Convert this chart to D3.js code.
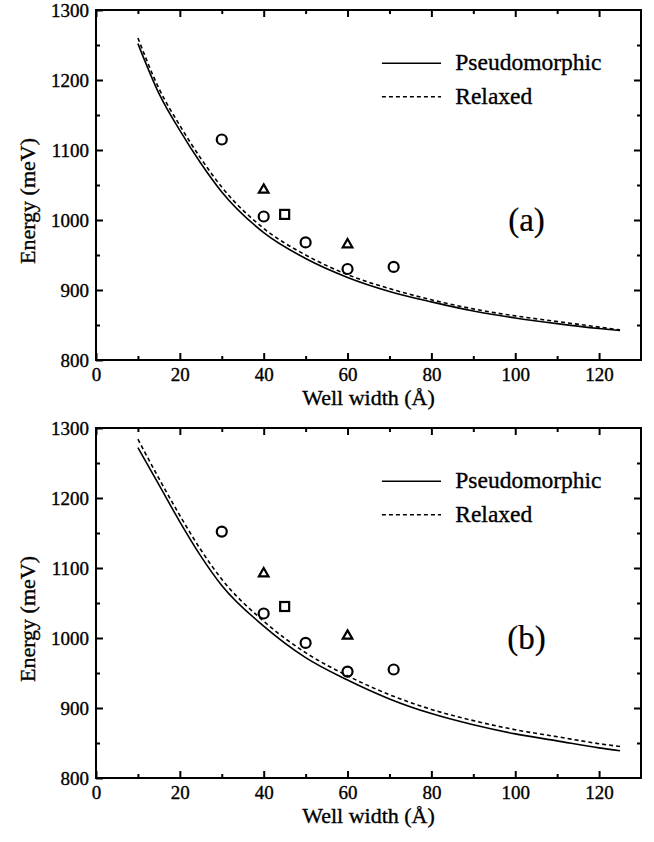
<!DOCTYPE html>
<html>
<head>
<meta charset="utf-8">
<script src="https://cdn.jsdelivr.net/npm/d3@7"></script>
<style>
  body { margin: 0; background: #fff; }
  svg text { font-family: "Liberation Serif", "Times New Roman", serif; fill: #000; stroke: #000; stroke-width: 0.35px; }
  svg .tick-label { font-size: 19px; }
  svg .axis-label { font-size: 22px; }
  svg .legend-text { font-size: 23.5px; }
  svg .panel-tag { font-size: 33px; stroke-width: 0.2px; }
</style>
</head>
<body>
<svg width="654" height="842"></svg>
<script>
const svg = d3.select("svg");

// well width (Å) where the calculated curves are sampled
const wellWidth = [10, 15, 20, 25, 30, 40, 50, 60, 70, 80, 90, 100, 110, 120, 125];

// panel (a)
const pseudoA   = [1252, 1181, 1128, 1081, 1040, 982, 945, 918, 898, 883, 870, 860, 852, 845, 842];
const relaxedA  = [1260, 1188, 1135, 1088, 1047, 988, 950, 922, 902, 886, 873, 863, 855, 847, 843];
// panel (b)
const pseudoB   = [1272, 1219, 1166, 1117, 1075, 1017, 972, 940, 913, 892, 876, 863, 853, 843, 839];
const relaxedB  = [1284, 1228, 1175, 1126, 1084, 1024, 979, 946, 919, 898, 882, 869, 859, 849, 845];

// experimental points
const circleX   = [30, 40, 50, 60, 71];
const circleA   = [1115, 1005, 968, 930, 933];
const circleB   = [1152, 1035, 993, 952, 955];
const triangleX = [40, 60];
const triangleA = [1043, 965];
const triangleB = [1092, 1003];
const squareX   = [45];
const squareA   = [1008];
const squareB   = [1045];

const xTicks = [0, 20, 40, 60, 80, 100, 120];
const yTicks = [800, 900, 1000, 1100, 1200, 1300];
const legendNames = ["Pseudomorphic", "Relaxed"];

const plotLeft = 96, plotRight = 641, plotHeight = 350;

const xScale = d3.scaleLinear().domain([0, 130]).range([plotLeft, plotRight]);

function drawPanel(top, pseudo, relaxed, circ, tri, sq, tag) {
    const g = svg.append("g");
    const yScale = d3.scaleLinear().domain([800, 1300]).range([top + plotHeight, top]);
    const bottom = top + plotHeight;

    // minor ticks, inward on all four sides
    const minorX = d3.range(10, 130, 20);
    const minorY = d3.range(850, 1300, 100);
    g.append("g").attr("transform", `translate(0,${bottom})`)
        .call(d3.axisBottom(xScale).tickValues(minorX).tickSize(-4).tickFormat(""));
    g.append("g").attr("transform", `translate(0,${top})`)
        .call(d3.axisTop(xScale).tickValues(minorX).tickSize(-4).tickFormat(""));
    g.append("g").attr("transform", `translate(${plotLeft},0)`)
        .call(d3.axisLeft(yScale).tickValues(minorY).tickSize(-4).tickFormat(""));
    g.append("g").attr("transform", `translate(${plotRight},0)`)
        .call(d3.axisRight(yScale).tickValues(minorY).tickSize(-4).tickFormat(""));

    // major ticks
    g.append("g").attr("transform", `translate(0,${bottom})`)
        .call(d3.axisBottom(xScale).tickValues(xTicks).tickSize(-7).tickPadding(8).tickFormat(d3.format("d")));
    g.append("g").attr("transform", `translate(0,${top})`)
        .call(d3.axisTop(xScale).tickValues(xTicks).tickSize(-7).tickFormat(""));
    g.append("g").attr("transform", `translate(${plotLeft},0)`)
        .call(d3.axisLeft(yScale).tickValues(yTicks).tickSize(-7).tickPadding(7).tickFormat(d3.format("d")));
    g.append("g").attr("transform", `translate(${plotRight},0)`)
        .call(d3.axisRight(yScale).tickValues(yTicks.slice(1, -1)).tickSize(-7).tickFormat(""));

    g.selectAll(".domain").remove();
    g.selectAll("g").attr("font-size", null).attr("font-family", null);
    g.selectAll(".tick line").attr("stroke", "#000").attr("stroke-width", 2);
    g.selectAll(".tick text").attr("class", "tick-label").attr("fill", "#000");

    // frame
    g.append("rect")
        .attr("x", plotLeft).attr("y", top)
        .attr("width", plotRight - plotLeft).attr("height", plotHeight)
        .attr("fill", "none").attr("stroke", "#000").attr("stroke-width", 2);

    const line = d3.line()
        .x((d, i) => xScale(wellWidth[i]))
        .y(d => yScale(d))
        .curve(d3.curveMonotoneX);

    g.append("path").datum(pseudo)
        .attr("d", line).attr("fill", "none")
        .attr("stroke", "#000").attr("stroke-width", 1.6);
    g.append("path").datum(relaxed)
        .attr("d", line).attr("fill", "none")
        .attr("stroke", "#000").attr("stroke-width", 1.6)
        .attr("stroke-dasharray", "4,3");

    // markers
    g.selectAll(".circ").data(circ).enter().append("circle")
        .attr("cx", (d, i) => xScale(circleX[i]))
        .attr("cy", d => yScale(d))
        .attr("r", 5)
        .attr("fill", "none").attr("stroke", "#000").attr("stroke-width", 2.2);

    const triShape = d3.symbol().type(d3.symbolTriangle).size(40);
    g.selectAll(".tri").data(tri).enter().append("path")
        .attr("d", triShape)
        .attr("transform", (d, i) => `translate(${xScale(triangleX[i])},${yScale(d)})`)
        .attr("fill", "none").attr("stroke", "#000").attr("stroke-width", 2.2);

    g.selectAll(".sq").data(sq).enter().append("rect")
        .attr("x", (d, i) => xScale(squareX[i]) - 4.5)
        .attr("y", d => yScale(d) - 4.5)
        .attr("width", 9).attr("height", 9)
        .attr("fill", "none").attr("stroke", "#000").attr("stroke-width", 2.2);

    // legend
    const legY = [yScale(1224), yScale(1176)];
    legendNames.forEach(function(name, i) {
        g.append("line")
            .attr("x1", xScale(68.2)).attr("x2", xScale(82.3))
            .attr("y1", legY[i]).attr("y2", legY[i])
            .attr("stroke", "#000").attr("stroke-width", 1.5)
            .attr("stroke-dasharray", i === 1 ? "4,3" : null);
        g.append("text")
            .attr("x", xScale(85.7)).attr("y", legY[i] + 7)
            .attr("class", "legend-text")
            .text(name);
    });

    g.append("text")
        .attr("x", xScale(102.7)).attr("y", yScale(985))
        .attr("text-anchor", "middle")
        .attr("class", "panel-tag")
        .text(tag);

    g.append("text")
        .attr("x", (plotLeft + plotRight) / 2)
        .attr("y", bottom + 45)
        .attr("text-anchor", "middle")
        .attr("class", "axis-label")
        .text("Well width (Å)");

    g.append("text")
        .attr("transform", "rotate(-90)")
        .attr("x", -(top + plotHeight / 2 + 16))
        .attr("y", 35)
        .attr("text-anchor", "middle")
        .attr("class", "axis-label")
        .text("Energy (meV)");
}

drawPanel(10, pseudoA, relaxedA, circleA, triangleA, squareA, "(a)");
drawPanel(428, pseudoB, relaxedB, circleB, triangleB, squareB, "(b)");
</script>
</body>
</html>
